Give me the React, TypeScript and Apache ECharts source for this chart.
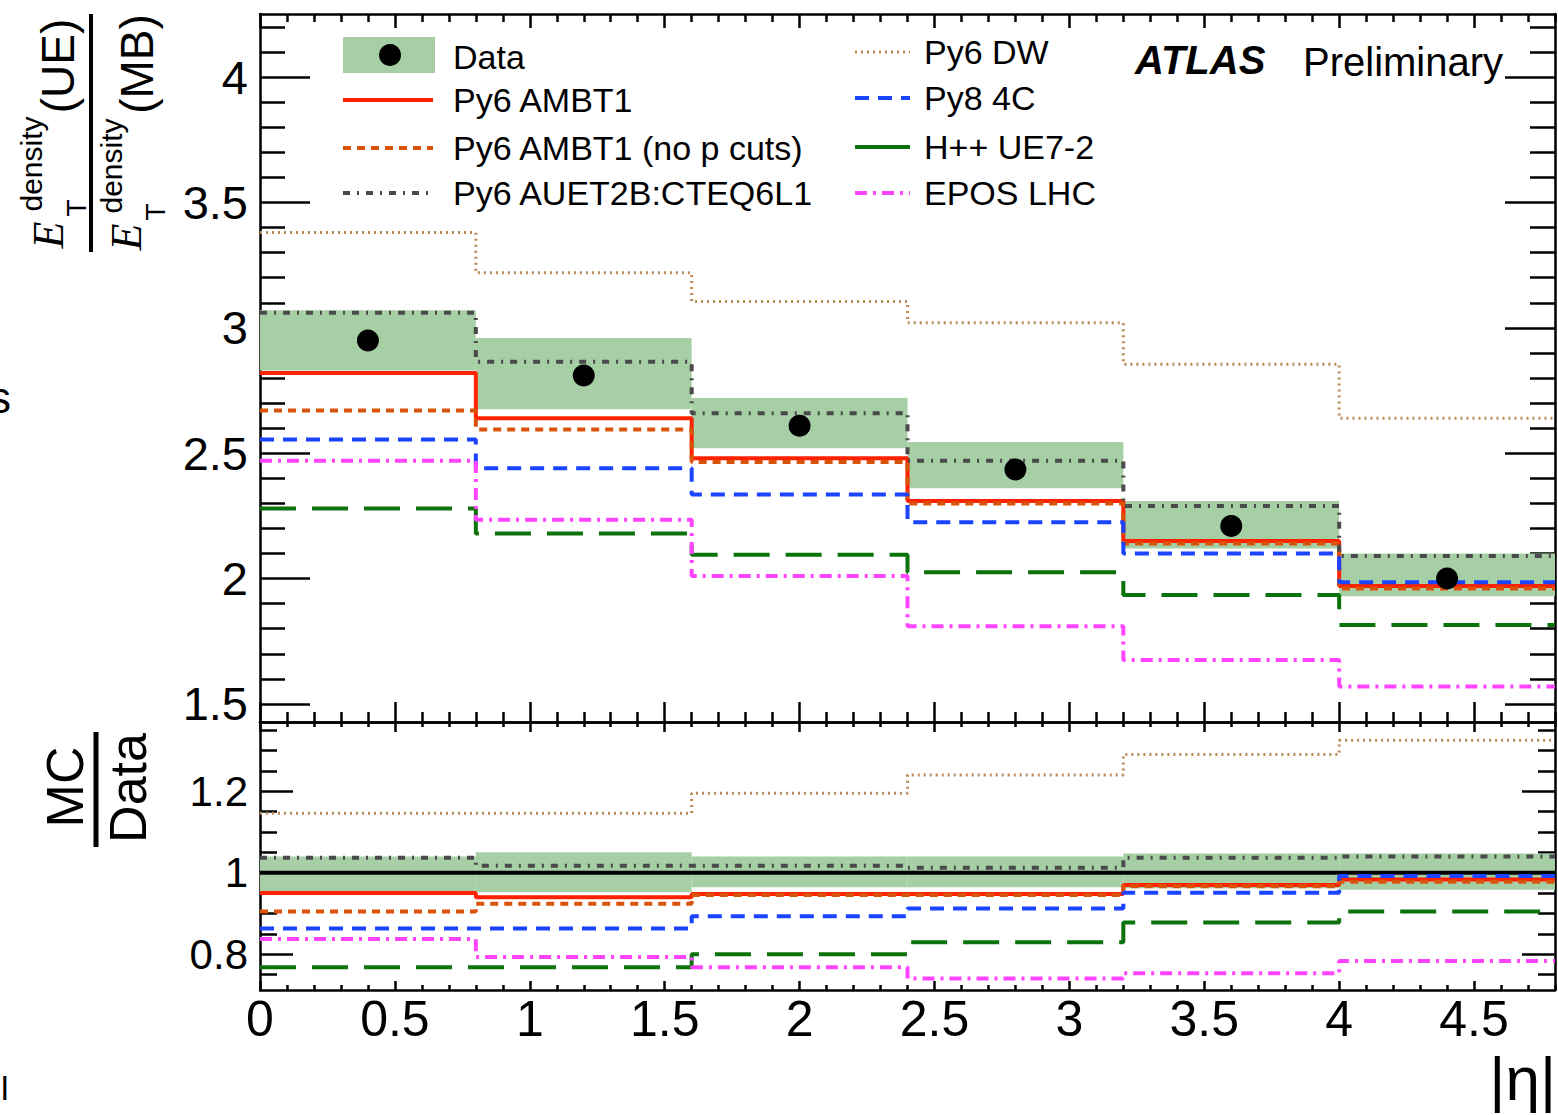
import React, { useEffect, useRef } from "react";
import * as echarts from "echarts";

// ---------- data ----------
const binEdges = [0, 0.8, 1.6, 2.4, 3.2, 4.0, 4.8];
const binCenters = [0.4, 1.2, 2.0, 2.8, 3.6, 4.4];

const dataValues = [2.95, 2.81, 2.61, 2.435, 2.21, 2.0];
const dataBandHigh = [3.07, 2.96, 2.72, 2.545, 2.31, 2.1];
const dataBandLow = [2.83, 2.675, 2.52, 2.36, 2.12, 1.93];

const py6Ambt1 = [2.82, 2.64, 2.48, 2.31, 2.15, 1.97];
const py6Ambt1NoP = [2.67, 2.595, 2.465, 2.3, 2.14, 1.96];
const py6Auet2b = [3.06, 2.865, 2.66, 2.47, 2.29, 2.09];
const py6Dw = [3.38, 3.22, 3.105, 3.02, 2.855, 2.64];
const py8_4c = [2.555, 2.44, 2.335, 2.225, 2.1, 1.985];
const hppUe72 = [2.28, 2.18, 2.095, 2.025, 1.935, 1.815];
const eposLhc = [2.47, 2.235, 2.01, 1.81, 1.675, 1.57];

const ratioBandHigh = [1.04, 1.05, 1.04, 1.04, 1.047, 1.047];
const ratioBandLow = [0.952, 0.952, 0.964, 0.964, 0.962, 0.958];
const ratioAmbt1 = [0.95, 0.94, 0.948, 0.948, 0.97, 0.983];
const ratioAmbt1NoP = [0.905, 0.924, 0.945, 0.945, 0.967, 0.978];
const ratioAuet2b = [1.037, 1.017, 1.017, 1.012, 1.037, 1.04];
const ratioDw = [1.146, 1.146, 1.195, 1.24, 1.29, 1.325];
const ratioPy8 = [0.863, 0.863, 0.893, 0.912, 0.951, 0.992];
const ratioHpp = [0.768, 0.768, 0.8, 0.829, 0.878, 0.905];
const ratioEpos = [0.837, 0.793, 0.768, 0.74, 0.753, 0.783];

const xMajorTicks = [0, 0.5, 1, 1.5, 2, 2.5, 3, 3.5, 4, 4.5];
const topYMajorTicks = [1.5, 2, 2.5, 3, 3.5, 4];
const bottomYMajorTicks = [0.8, 1, 1.2];

// ---------- styles ----------
const FONT = "'Liberation Sans', Arial, Helvetica, sans-serif";
const SERIF = "'Liberation Serif', 'Times New Roman', serif";
const BAND = "#a6cfa6";
const models = [
  { name: "Py6 AMBT1", top: py6Ambt1, ratio: ratioAmbt1, color: "#ff2200", width: 4, dash: "solid" as any },
  { name: "Py6 AMBT1 (no p cuts)", top: py6Ambt1NoP, ratio: ratioAmbt1NoP, color: "#d9530a", width: 4, dash: [8, 6] },
  { name: "Py6 AUET2B:CTEQ6L1", top: py6Auet2b, ratio: ratioAuet2b, color: "#4a4a4a", width: 4, dash: [7, 7, 2, 7] },
  { name: "Py6 DW", top: py6Dw, ratio: ratioDw, color: "#b98a55", width: 3, dash: [2, 4] },
  { name: "Py8 4C", top: py8_4c, ratio: ratioPy8, color: "#1a44ff", width: 4, dash: [14, 9] },
  { name: "H++ UE7-2", top: hppUe72, ratio: ratioHpp, color: "#0b730b", width: 4, dash: [36, 16] },
  { name: "EPOS LHC", top: eposLhc, ratio: ratioEpos, color: "#ff44ff", width: 4, dash: [12, 6, 3, 6] },
];

const seq = (a: number, b: number, s: number) => {
  const out: number[] = [];
  for (let v = a; v <= b + 1e-9; v += s) out.push(Math.round(v * 1000) / 1000);
  return out;
};
const minorOf = (all: number[], major: number[]) =>
  all.filter((v) => !major.some((m) => Math.abs(m - v) < 1e-6));

const xMinorTicks = minorOf(seq(0, 4.8, 0.1), xMajorTicks);
const topYMinorTicks = minorOf(seq(1.5, 4.2, 0.1), topYMajorTicks);
const bottomYMinorTicks = minorOf(seq(0.75, 1.35, 0.05), bottomYMajorTicks);

const stepData = (vals: number[]) =>
  binEdges.map((e, i) => [e, vals[Math.min(i, vals.length - 1)]]);

const LINE = { color: "#000", width: 2.5 };

function makeAxis(kind: "x" | "y", grid: number, min: number, max: number, position: string, ticks: number[], len: number, opts: any = {}) {
  return {
    type: "value",
    gridIndex: grid,
    min,
    max,
    position,
    axisLine: { show: !!opts.line, onZero: false, lineStyle: LINE },
    axisTick: { show: true, inside: true, length: len, customValues: ticks, lineStyle: LINE },
    axisLabel: opts.labels
      ? {
          show: true,
          customValues: opts.labels,
          fontFamily: FONT,
          fontSize: opts.fontSize,
          color: "#000",
          margin: opts.margin,
          formatter: (v: number) => `${+v.toFixed(2)}`,
        }
      : { show: false },
    splitLine: { show: false },
  };
}

const band = (lo: number[], hi: number[], xi: number, yi: number) => ({
  type: "custom",
  xAxisIndex: xi,
  yAxisIndex: yi,
  z: 1,
  silent: true,
  renderItem: (params: any, api: any) => {
    const p0 = api.coord([api.value(0), api.value(3)]);
    const p1 = api.coord([api.value(1), api.value(2)]);
    return {
      type: "rect",
      shape: { x: p0[0], y: p0[1], width: p1[0] - p0[0], height: p1[1] - p0[1] },
      style: { fill: BAND },
    };
  },
  data: lo.map((l, i) => [binEdges[i], binEdges[i + 1], l, hi[i]]),
});

const stepSeries = (m: any, vals: number[], xi: number, yi: number) => ({
  type: "line",
  name: m.name,
  step: "end",
  xAxisIndex: xi,
  yAxisIndex: yi,
  symbol: "none",
  z: 3,
  silent: true,
  lineStyle: { color: m.color, width: m.width, type: m.dash },
  data: stepData(vals),
});

const T = (text: string, x: number, y: number, size: number, extra: any = {}, styleExtra: any = {}) => ({
  type: "text",
  x,
  y,
  silent: true,
  ...extra,
  style: {
    text,
    fontSize: size,
    fontFamily: FONT,
    fill: "#000",
    align: "left",
    verticalAlign: "middle",
    ...styleExtra,
  },
});
const R = Math.PI / 2;
const L = (x1: number, y1: number, x2: number, y2: number, color: string, width: number, dash?: any) => ({
  type: "line",
  silent: true,
  shape: { x1, y1, x2, y2 },
  style: { stroke: color, lineWidth: width, lineDash: dash },
});

export default function App() {
  const ref = useRef<HTMLDivElement>(null);
  useEffect(() => {
    if (!ref.current) return;
    const chart = echarts.init(ref.current, undefined, { renderer: "svg" });

    const legendLeft = [0, 1, 2];
    const legendRight = [3, 4, 5, 6];
    const leftY = [100, 148, 193];
    const rightY = [52, 98, 147, 193];

    const graphic: any[] = [
      // top y-axis title (fraction)
      T("E", 48, 235, 44, { rotation: R }, { fontFamily: SERIF, fontStyle: "italic", align: "center" }),
      T("T", 76, 208, 28, { rotation: R }, { align: "center" }),
      T("density", 31, 164, 30, { rotation: R }, { align: "center" }),
      T("(UE)", 58, 66, 46, { rotation: R }, { align: "center" }),
      L(91, 14, 91, 252, "#000", 4),
      T("E", 126, 237, 44, { rotation: R }, { fontFamily: SERIF, fontStyle: "italic", align: "center" }),
      T("T", 155, 212, 28, { rotation: R }, { align: "center" }),
      T("density", 111, 166, 30, { rotation: R }, { align: "center" }),
      T("(MB)", 137, 64, 46, { rotation: R }, { align: "center" }),
      // bottom y-axis title
      T("MC", 65, 787, 52, { rotation: R }, { align: "center" }),
      L(96, 732, 96, 847, "#000", 5),
      T("Data", 128, 788, 52, { rotation: R }, { align: "center" }),
      // stray fragments at left edge
      T("s", -11, 397, 44),
      T("l", 1, 1088, 34),
      // x-axis title
      T("|η|", 1556, 1078, 62, {}, { align: "right" }),
      // ATLAS label
      T("ATLAS", 1135, 60, 40, {}, { fontWeight: "bold", fontStyle: "italic" }),
      T("Preliminary", 1303, 62, 40),
      // legend: Data
      { type: "rect", silent: true, shape: { x: 343, y: 37, width: 92, height: 36 }, style: { fill: BAND } },
      { type: "circle", silent: true, shape: { cx: 390, cy: 55, r: 11 }, style: { fill: "#000" } },
      T("Data", 453, 57, 34),
    ];
    legendLeft.forEach((mi, k) => {
      const m = models[mi];
      graphic.push(L(343, leftY[k], 433, leftY[k], m.color, m.width, Array.isArray(m.dash) ? m.dash : undefined));
      graphic.push(T(m.name, 453, leftY[k], 34));
    });
    legendRight.forEach((mi, k) => {
      const m = models[mi];
      graphic.push(L(855, rightY[k], 910, rightY[k], m.color, m.width, Array.isArray(m.dash) ? (mi === 5 ? undefined : m.dash) : undefined));
      graphic.push(T(m.name, 924, rightY[k], 34));
    });

    const TOP_MIN = 1.428, TOP_MAX = 4.252;
    const BOT_MIN = 0.712, BOT_MAX = 1.37;

    const option: any = {
      animation: false,
      backgroundColor: "#fff",
      grid: [
        { left: 260, top: 14, width: 1295, height: 708 },
        { left: 260, top: 722, width: 1295, height: 268 },
      ],
      xAxis: [
        makeAxis("x", 0, 0, 4.8, "bottom", xMajorTicks, 20, { line: true }),
        makeAxis("x", 0, 0, 4.8, "bottom", xMinorTicks, 10),
        makeAxis("x", 0, 0, 4.8, "top", xMajorTicks, 14, { line: true }),
        makeAxis("x", 0, 0, 4.8, "top", xMinorTicks, 8),
        makeAxis("x", 1, 0, 4.8, "bottom", xMajorTicks, 9, { line: true, labels: xMajorTicks, fontSize: 50, margin: 4 }),
        makeAxis("x", 1, 0, 4.8, "bottom", xMinorTicks, 5),
        makeAxis("x", 1, 0, 4.8, "top", xMajorTicks, 10, { line: true }),
        makeAxis("x", 1, 0, 4.8, "top", xMinorTicks, 5),
      ],
      yAxis: [
        makeAxis("y", 0, TOP_MIN, TOP_MAX, "left", topYMajorTicks, 50, { line: true, labels: topYMajorTicks, fontSize: 47, margin: 12 }),
        makeAxis("y", 0, TOP_MIN, TOP_MAX, "left", topYMinorTicks, 25),
        makeAxis("y", 0, TOP_MIN, TOP_MAX, "right", topYMajorTicks, 50, { line: true }),
        makeAxis("y", 0, TOP_MIN, TOP_MAX, "right", topYMinorTicks, 25),
        makeAxis("y", 1, BOT_MIN, BOT_MAX, "left", bottomYMajorTicks, 33, { line: true, labels: bottomYMajorTicks, fontSize: 42, margin: 12 }),
        makeAxis("y", 1, BOT_MIN, BOT_MAX, "left", bottomYMinorTicks, 17),
        makeAxis("y", 1, BOT_MIN, BOT_MAX, "right", bottomYMajorTicks, 33, { line: true }),
        makeAxis("y", 1, BOT_MIN, BOT_MAX, "right", bottomYMinorTicks, 17),
      ],
      graphic,
      series: [
        band(dataBandLow, dataBandHigh, 0, 0),
        ...models.map((m) => stepSeries(m, m.top, 0, 0)),
        {
          type: "scatter",
          name: "Data",
          xAxisIndex: 0,
          yAxisIndex: 0,
          symbol: "circle",
          symbolSize: 22,
          z: 5,
          silent: true,
          itemStyle: { color: "#000", opacity: 1 },
          data: binCenters.map((c, i) => [c, dataValues[i]]),
        },
        band(ratioBandLow, ratioBandHigh, 4, 4),
        {
          type: "line",
          xAxisIndex: 4,
          yAxisIndex: 4,
          symbol: "none",
          z: 2,
          silent: true,
          lineStyle: { color: "#000", width: 4 },
          data: [[binEdges[0], 1], [binEdges[binEdges.length - 1], 1]],
        },
        ...models.map((m) => stepSeries(m, m.ratio, 4, 4)),
      ],
    };
    chart.setOption(option);
    return () => chart.dispose();
  }, []);
  return (
    <div
      ref={ref}
      style={{ position: "fixed", left: 0, top: 0, width: 1558, height: 1115, background: "#fff" }}
    />
  );
}
